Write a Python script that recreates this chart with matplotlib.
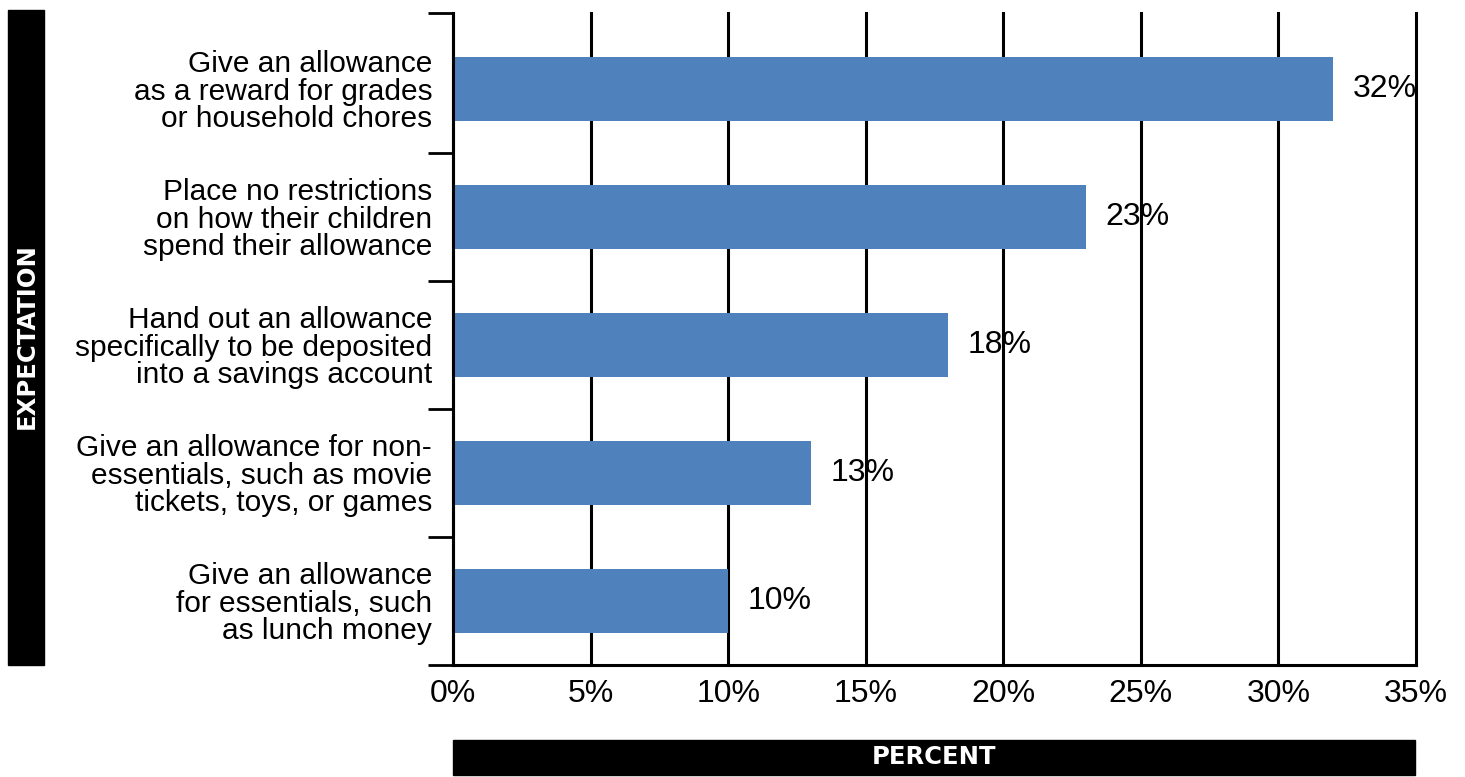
import matplotlib
matplotlib.use('Agg')
import matplotlib.pyplot as plt
from matplotlib.patches import Rectangle

## allowance expectations, top to bottom as in the chart
labels = ['Give an allowance\nas a reward for grades\nor household chores',
          'Place no restrictions\non how their children\nspend their allowance',
          'Hand out an allowance\nspecifically to be deposited\ninto a savings account',
          'Give an allowance for non-\nessentials, such as movie\ntickets, toys, or games',
          'Give an allowance\nfor essentials, such\nas lunch money']
values = [32, 23, 18, 13, 10]
xticks = [0, 5, 10, 15, 20, 25, 30, 35]

plt.rcParams['font.family'] = ['Liberation Sans', 'DejaVu Sans']

fig = plt.figure(figsize=(14.65, 7.77), dpi=100)
ax = fig.add_axes([453/1465, 1-665/777, (1416-453)/1465, (665-13)/777])

pos = list(range(len(values)))
ax.barh(pos, values, height=0.5, color='#4f81bd', zorder=2)
top = -0.594
ax.set_ylim(len(values)-0.5, top)
ax.set_xlim(0, 35)

# category boundaries as outward ticks, labels in between
ax.set_yticks([top] + [p + 0.5 for p in pos])
ax.set_yticklabels([])
ax.tick_params(axis='y', which='major', length=18, width=2, color='black', direction='out')
ax.set_yticks(pos, minor=True)
ax.set_yticklabels(labels, minor=True, fontsize=21.5, linespacing=0.98)
ax.tick_params(axis='y', which='minor', length=0, pad=15)

ax.set_xticks(xticks)
ax.set_xticklabels([str(t) + '%' for t in xticks], fontsize=23)
ax.tick_params(axis='x', length=0, pad=10)
ax.grid(axis='x', color='black', linewidth=2.2, zorder=1)
for g in ax.xaxis.get_gridlines():
    g.set_clip_on(False)
ax.set_axisbelow(True)

for s in ['top', 'right']:
    ax.spines[s].set_visible(False)
for s in ['left', 'bottom']:
    ax.spines[s].set_linewidth(2.2)

for p, v in zip(pos, values):
    ax.annotate(str(v) + '%', (v, p), xytext=(14, 0), textcoords='offset points',
                va='center', ha='left', fontsize=23)

# black label boxes
fig.patches.append(Rectangle((8/1465, 1-665/777), 36/1465, 655/777,
                             transform=fig.transFigure, color='black', zorder=0))
fig.text(27/1465, 1-336/777, 'EXPECTATION', rotation=90, color='white',
         fontsize=17.5, fontweight='bold', ha='center', va='center',
         family=['DejaVu Sans'])
fig.patches.append(Rectangle((453/1465, 2/777), 962/1465, 35/777,
                             transform=fig.transFigure, color='black', zorder=0))
fig.text(934/1465, 1-757/777, 'PERCENT', color='white',
         fontsize=17.5, fontweight='bold', ha='center', va='center',
         family=['DejaVu Sans'])

fig.savefig('out.png', dpi=100)
